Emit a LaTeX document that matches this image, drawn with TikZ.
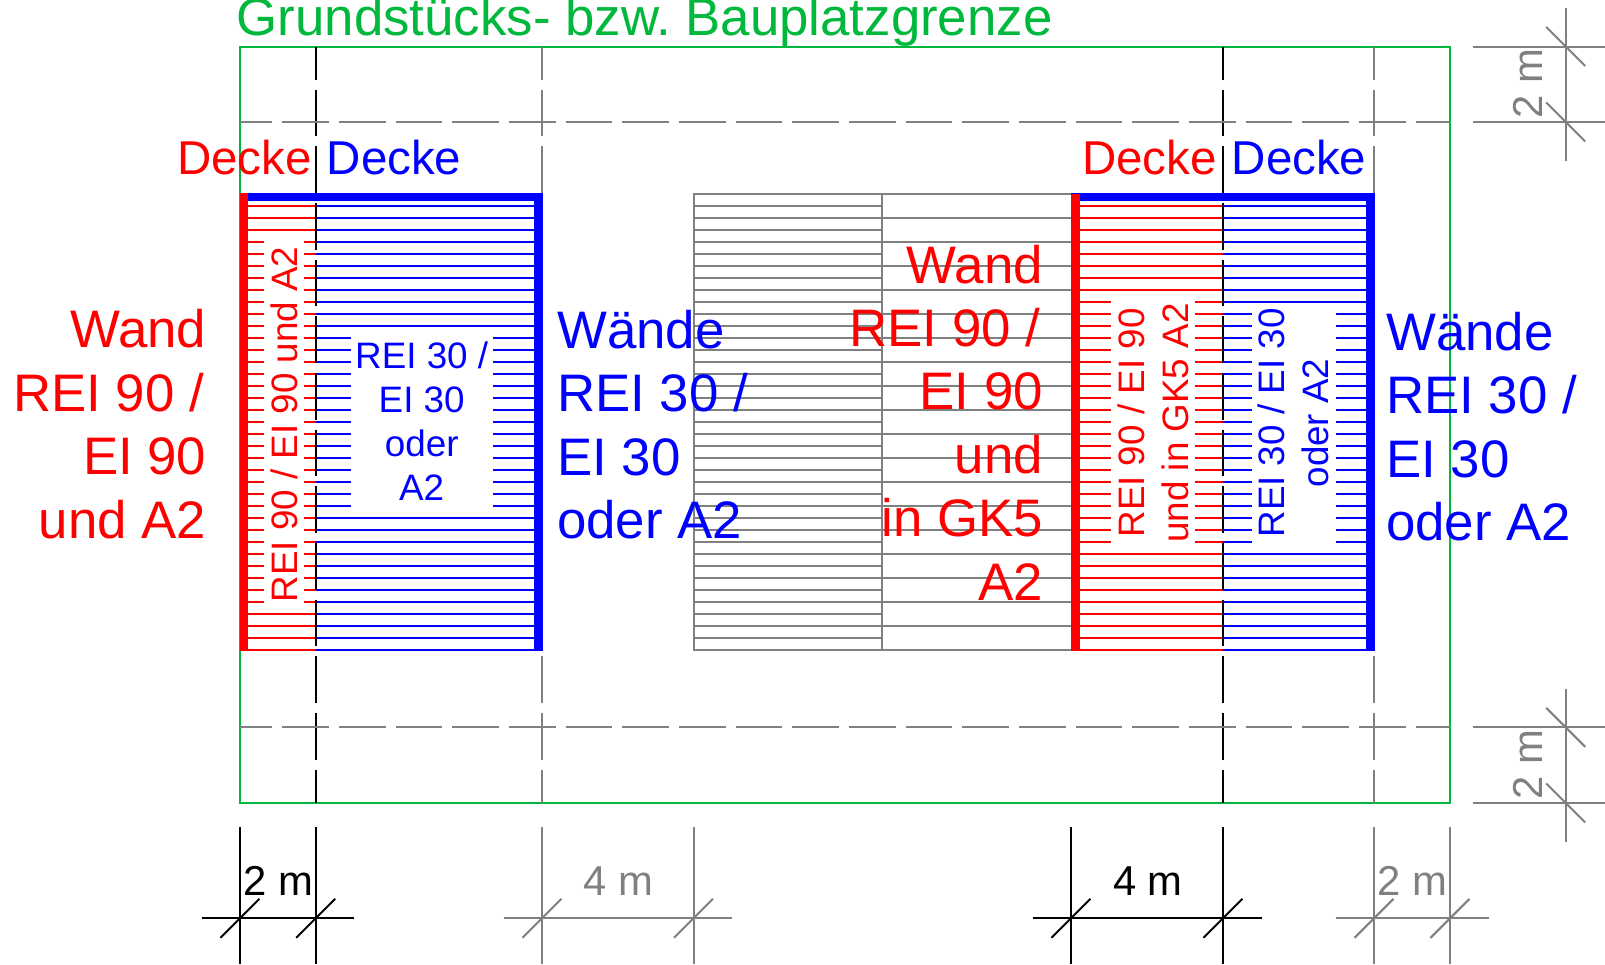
\documentclass[tikz,border=0pt]{standalone}
\usepackage{fontspec}
\setmainfont{Liberation Sans}
\frenchspacing
\usetikzlibrary{positioning}
\definecolor{plotgreen}{RGB}{0, 184, 60}
\definecolor{dimgray}{RGB}{128, 128, 128}
\newcommand{\bigtext}{\fontsize{52.8}{63.4}\selectfont}
\newcommand{\decketext}{\fontsize{47.5}{56}\selectfont}
\newcommand{\smalltext}{\fontsize{36.8}{44}\selectfont}
\newcommand{\dimtext}{\fontsize{41.8}{49}\selectfont}
\begin{document}
\begin{tikzpicture}[
    x=1pt, y=-1pt,
    hatch/.style={draw=#1, line width=2pt},
    axis/.style={draw=#1, line width=2pt, dash pattern=on 46.67pt off 10pt},
    dimline/.style={draw=#1, line width=2pt},
    label/.style={inner sep=0pt, text=#1},
    wall/.style={fill=#1}
]
    \useasboundingbox (0,0) rectangle (1605,964);
    \fill[white] (0,0) rectangle (1605,964);

    % Plot boundary
    \draw[plotgreen, line width=2pt] (240,46.5) rectangle (1450,803);

    % Hatching, then the gaps for the texts
    \foreach \k in {1,...,38} {
        \pgfmathsetmacro{\yy}{193.7+12.02*\k}
        \draw[hatch=red] (248,\yy) -- (315.7,\yy);
        \draw[hatch=blue] (315.7,\yy) -- (534,\yy);
        \draw[hatch=red] (1080,\yy) -- (1223,\yy);
        \draw[hatch=blue] (1223,\yy) -- (1366,\yy);
    }
    \foreach \k in {1,...,37} {
        \pgfmathsetmacro{\yy}{193.7+12.02*\k}
        \draw[hatch=dimgray] (693.5,\yy) -- (882,\yy);
    }
    \foreach \k in {2,4,...,38} {
        \pgfmathsetmacro{\yy}{193.7+12.02*\k}
        \draw[hatch=dimgray] (882,\yy) -- (1071,\yy);
    }
    \draw[hatch=dimgray] (693.5,193.7) rectangle (882,650.46);
    \draw[hatch=dimgray] (882,193.7) -- (1071,193.7);
    \fill[white] (264,236) rectangle (304,608);
    \fill[white] (351,332) rectangle (493.3,511);
    \fill[white] (1111,296) rectangle (1195,548);
    \fill[white] (1252,308) rectangle (1335.7,548);

    % Axes
    \foreach \xx/\col in {315.7/black, 542/dimgray, 1223/black, 1374/dimgray}
        \draw[axis=\col, dash phase=13.67pt] (\xx,46.5) -- (\xx,803);
    \foreach \yy in {122, 727.3}
        \draw[axis=dimgray, dash phase=14.37pt] (240,\yy) -- (1450,\yy);

    % Walls and ceilings
    \fill[wall=blue] (240,192.7) rectangle (542.7,200.7);
    \fill[wall=blue] (534,192.7) rectangle (542.7,650.9);
    \fill[wall=red] (239.7,192.7) rectangle (247.9,650.9);
    \fill[wall=blue] (1071,192.7) rectangle (1374.5,200.7);
    \fill[wall=blue] (1366,192.7) rectangle (1374.5,650.9);
    \fill[wall=red] (1070.7,193.5) rectangle (1080,650.9);

    % Dimension chains below
    \foreach \xa/\xb/\col in {240/315.7/black, 542/693.5/dimgray, 1071/1223/black, 1374/1450/dimgray} {
        \draw[dimline=\col] (\xa-38.5,918.3) -- (\xb+38.5,918.3);
        \foreach \xx in {\xa,\xb} {
            \draw[dimline=\col] (\xx,826.5) -- (\xx,964);
            \draw[dimline=\col] (\xx-19.5,937.8) -- (\xx+19.5,898.8);
        }
    }

    % Dimension chains on the right
    \foreach \ya/\yb in {46.5/122, 727.3/803} {
        \draw[dimline=dimgray] (1565.7,\ya-38.5) -- (1565.7,\yb+38.5);
        \foreach \yy in {\ya,\yb} {
            \draw[dimline=dimgray] (1472.7,\yy) -- (1605,\yy);
            \draw[dimline=dimgray] (1546.2,\yy-19.5) -- (1585.2,\yy+19.5);
        }
    }

    % Labels
    \node[label=plotgreen, font=\bigtext, anchor=base west] (boundary) at (236.5,35) {Grundstücks- bzw. Bauplatzgrenze};
    \node[label=red, font=\decketext, anchor=base west] (ceilA) at (177,174.3) {Decke};
    \node[label=blue, font=\decketext, anchor=base west] (ceilB) at (326.5,174.3) {Decke};
    \node[label=red, font=\decketext, anchor=base west] (ceilC) at (1082,174.3) {Decke};
    \node[label=blue, font=\decketext, anchor=base west] (ceilD) at (1231.5,174.3) {Decke};

    \node[label=red, font=\bigtext, align=right, anchor=base east] (wallA) at (206.5,538) {Wand\\REI 90 /\kern2.5pt\\EI 90\\und A2};
    \node[label=blue, font=\bigtext, align=left, anchor=base west] (wallB) at (557,538.5) {Wände\\REI 30 /\\EI 30\\oder A2};
    \node[label=red, font=\bigtext, align=right, anchor=base east] (wallC) at (1043,600) {Wand\\REI 90 /\kern2.5pt\\EI 90\\und\\in GK5\\A2};
    \node[label=blue, font=\bigtext, align=left, anchor=base west] (wallD) at (1386,540.5) {Wände\\REI 30 /\\EI 30\\oder A2};

    \node[label=red, font=\smalltext, rotate=90] (textA) at (284,424.5) {REI 90 / EI 90 und A2};
    \node[label=blue, font=\smalltext, align=center] (textB) at (421.7,421) {REI 30 /\\EI 30\\oder\\A2};
    \node[label=red, font=\smalltext, align=center, rotate=90] (textC) at (1153,423) {REI 90 / EI 90\\und in GK5 A2};
    \node[label=blue, font=\smalltext, align=center, rotate=90] (textD) at (1293.7,423) {REI 30 / EI 30\\oder A2};

    \node[label=black, font=\dimtext, anchor=base] (dimA) at (278.5,895) {2 m};
    \node[label=dimgray, font=\dimtext, anchor=base] (dimB) at (618.5,895) {4 m};
    \node[label=black, font=\dimtext, anchor=base] (dimC) at (1148,895) {4 m};
    \node[label=dimgray, font=\dimtext, anchor=base] (dimD) at (1412.7,895) {2 m};
    \node[label=dimgray, font=\dimtext, anchor=base, rotate=90] (dimE) at (1542.5,83.5) {2 m};
    \node[label=dimgray, font=\dimtext, anchor=base, rotate=90] (dimF) at (1542.5,764.5) {2 m};
\end{tikzpicture}
\end{document}
